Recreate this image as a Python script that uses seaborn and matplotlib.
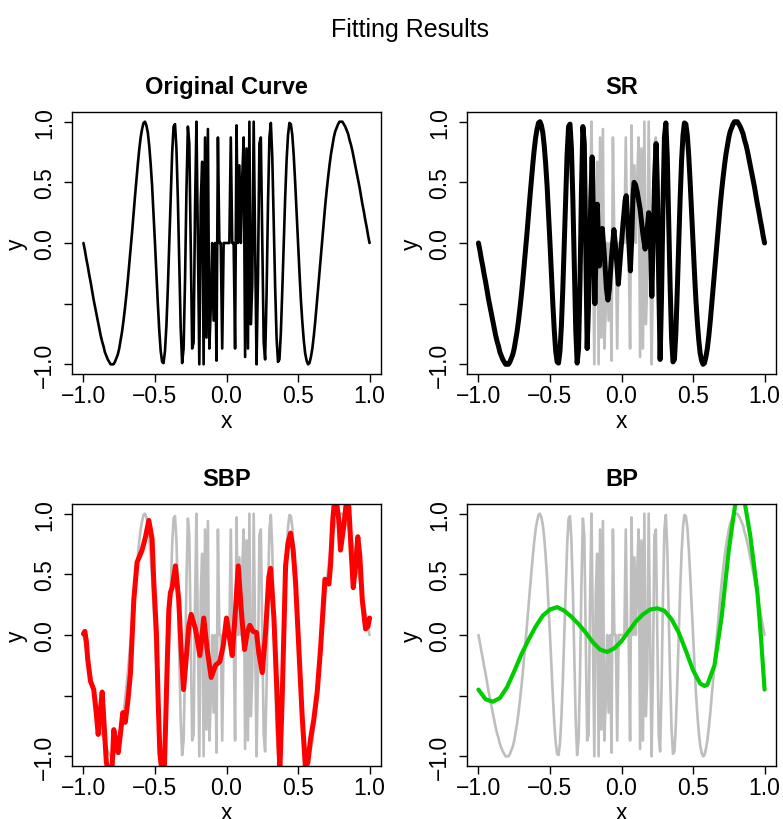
import numpy as np
import pandas as pd
import matplotlib
matplotlib.use("Agg")
import matplotlib.pyplot as plt
import seaborn as sns

# ---------------- data ----------------
# sampling grid of the original curve: -1.00 .. 1.00 by 0.01
x_grid = np.round(np.linspace(-1.0, 1.0, 201), 2)

# original curve values at x = -1.00 ... -0.01
orig_neg = [0.00, -0.06, -0.13, -0.19, -0.26, -0.32, -0.39, -0.46, -0.52, -0.58,
            -0.64, -0.70, -0.76, -0.81, -0.85, -0.90, -0.93, -0.96, -0.98, -1.00,
            -1.00, -1.00, -0.98, -0.95, -0.92, -0.87, -0.80, -0.73, -0.64, -0.54,
            -0.43, -0.31, -0.18, -0.05, 0.09, 0.24, 0.38, 0.52, 0.65, 0.77,
            0.87, 0.94, 0.99, 1.00, 0.97, 0.91, 0.80, 0.65, 0.47, 0.24,
            0.00, -0.25, -0.50, -0.72, -0.89, -0.98, -0.99, -0.89, -0.68, -0.37,
            0.00, 0.39, 0.74, 0.96, 0.98, 0.78, 0.36, -0.19, -0.71, -0.99,
            -0.87, -0.32, 0.43, 0.96, 0.82, 0.00, -0.87, -0.82, 0.28, 1.00,
            0.00, -1.00, 0.34, 0.67, -1.00, 0.87, -0.78, 0.94, -0.87, -0.54,
            0.00, -0.64, 0.00, -0.97, 0.87, 0.00, 0.00, -0.87, 0.00, 0.00]
orig_zero = [0.00]
# original curve values at x = 0.01 ... 1.00
orig_pos = [0.00, 0.00, 0.87, 0.00, 0.00, -0.87, 0.97, 0.00, 0.64, 0.00,
            0.54, 0.87, -0.94, 0.78, -0.87, 1.00, -0.67, -0.34, 1.00, 0.00,
            -1.00, -0.28, 0.82, 0.87, 0.00, -0.82, -0.96, -0.43, 0.32, 0.87,
            0.99, 0.71, 0.19, -0.36, -0.78, -0.98, -0.96, -0.74, -0.39, 0.00,
            0.37, 0.68, 0.89, 0.99, 0.98, 0.89, 0.72, 0.50, 0.25, 0.00,
            -0.24, -0.47, -0.65, -0.80, -0.91, -0.97, -1.00, -0.99, -0.94, -0.87,
            -0.77, -0.65, -0.52, -0.38, -0.24, -0.09, 0.05, 0.18, 0.31, 0.43,
            0.54, 0.64, 0.73, 0.80, 0.87, 0.92, 0.95, 0.98, 1.00, 1.00,
            1.00, 0.98, 0.96, 0.93, 0.90, 0.85, 0.81, 0.76, 0.70, 0.64,
            0.58, 0.52, 0.46, 0.39, 0.32, 0.26, 0.19, 0.13, 0.06, 0.00]

# SR fit: identical to the original for |x| large, its own values in the middle
sr_mid_x = [-0.225, -0.215, -0.205, -0.195, -0.186, -0.178, -0.169, -0.162, -0.155,
            -0.145, -0.134, -0.12, -0.105, -0.095, -0.085, -0.07, -0.053, -0.04,
            -0.022, -0.01, 0.01, 0.025, 0.033, 0.045, 0.062, 0.072, 0.08, 0.088,
            0.098, 0.11, 0.13, 0.15, 0.165, 0.175, 0.19, 0.197, 0.205, 0.212,
            0.222, 0.232, 0.242, 0.25, 0.26]
sr_mid_y = [-0.30, 0.35, 0.71, 0.10, -0.50, -0.05, 0.32, 0.05, -0.19,
            0.00, 0.12, -0.10, -0.38, -0.47, -0.38, -0.12, 0.11, -0.05,
            -0.34, -0.15, 0.15, 0.35, 0.39, 0.15, -0.23, 0.05, 0.38, 0.50,
            0.48, 0.42, 0.28, 0.07, -0.05, 0.05, 0.25, 0.15, -0.10, -0.44,
            0.05, 0.55, 0.82, 0.50, -0.30]

# SBP fit
sbp_x = [-1.00, -0.99, -0.98, -0.97, -0.951, -0.928, -0.91, -0.897, -0.88, -0.869,
         -0.855, -0.84, -0.82, -0.80, -0.788, -0.77, -0.757, -0.74, -0.725, -0.708,
         -0.69, -0.671, -0.648, -0.625, -0.59, -0.566, -0.543, -0.52, -0.508, -0.49,
         -0.478, -0.466, -0.45, -0.434, -0.427, -0.415, -0.403, -0.392, -0.38, -0.357,
         -0.334, -0.317, -0.30, -0.282, -0.264, -0.247, -0.217, -0.186, -0.159, -0.135,
         -0.107, -0.077, -0.047, -0.023, 0.00, 0.023, 0.04, 0.063, 0.082, 0.103,
         0.126, 0.145, 0.163, 0.186, 0.21, 0.226, 0.25, 0.273, 0.296, 0.308,
         0.331, 0.355, 0.373, 0.389, 0.401, 0.413, 0.43, 0.448, 0.466, 0.483,
         0.506, 0.529, 0.552, 0.569, 0.587, 0.61, 0.634, 0.657, 0.688, 0.716,
         0.727, 0.743, 0.76, 0.785, 0.797, 0.82, 0.84, 0.855, 0.871, 0.886,
         0.902, 0.918, 0.932, 0.949, 0.972, 0.989, 1.00]
sbp_y = [0.01, 0.03, -0.05, -0.20, -0.38, -0.45, -0.65, -0.82, -0.60, -0.47,
         -0.75, -1.05, -1.15, -1.10, -0.78, -0.90, -0.97, -0.80, -0.64, -0.72,
         -0.55, -0.31, 0.29, 0.60, 0.70, 0.81, 0.945, 0.79, 0.43, 0.02,
         -0.53, -0.97, -1.15, -1.08, -0.80, -0.26, 0.21, 0.35, 0.39, 0.57,
         0.29, -0.12, -0.45, -0.20, 0.07, 0.17, 0.05, -0.17, 0.14, -0.12,
         -0.35, -0.25, -0.22, -0.09, 0.14, -0.04, -0.17, 0.21, 0.57, 0.21,
         -0.12, 0.02, 0.08, 0.03, 0.02, -0.15, -0.31, 0.02, 0.48, 0.55,
         0.15, -0.53, -1.12, -0.53, 0.02, 0.57, 0.76, 0.84, 0.70, 0.43,
         -0.12, -0.67, -1.10, -1.05, -0.86, -0.70, -0.47, -0.12, 0.46, 0.42,
         0.57, 0.95, 1.18, 0.95, 0.70, 0.90, 1.12, 1.06, 0.70, 0.39,
         0.57, 0.81, 0.65, 0.29, 0.05, 0.07, 0.14]

# BP fit
bp_x = [-1.00, -0.95, -0.90, -0.85, -0.80, -0.75, -0.70, -0.65, -0.60, -0.55,
        -0.50, -0.45, -0.40, -0.35, -0.30, -0.25, -0.20, -0.15, -0.10, -0.05,
        0.00, 0.05, 0.10, 0.15, 0.20, 0.25, 0.30, 0.35, 0.40, 0.45,
        0.50, 0.55, 0.58, 0.60, 0.65, 0.70, 0.75, 0.80, 0.83, 0.86,
        0.90, 0.95, 0.975, 1.00]
bp_y = [-0.45, -0.53, -0.55, -0.52, -0.43, -0.30, -0.16, -0.04, 0.07, 0.16,
        0.21, 0.23, 0.20, 0.15, 0.09, 0.02, -0.06, -0.12, -0.14, -0.11,
        -0.05, 0.03, 0.11, 0.17, 0.21, 0.22, 0.20, 0.13, 0.02, -0.13,
        -0.29, -0.40, -0.42, -0.41, -0.25, 0.15, 0.70, 1.12, 1.22, 1.10,
        0.82, 0.35, -0.02, -0.45]

panel_titles = ["Original Curve", "SR", "SBP", "BP"]
tick_vals = [-1.0, -0.5, 0.0, 0.5, 1.0]
x_tick_labels = ["\u22121.0", "\u22120.5", "0.0", "0.5", "1.0"]
y_tick_labels = ["\u22121.0", "", "0.0", "0.5", "1.0"]

# ---------------- assemble ----------------
orig_y = np.array(orig_neg + orig_zero + orig_pos)
orig_df = pd.DataFrame({"x": x_grid, "y": orig_y})

left = x_grid < -0.235
right = x_grid > 0.265
sr_df = pd.DataFrame({
    "x": np.concatenate([x_grid[left], sr_mid_x, x_grid[right]]),
    "y": np.concatenate([orig_y[left], sr_mid_y, orig_y[right]]),
})
sbp_df = pd.DataFrame({"x": sbp_x, "y": sbp_y})
bp_df = pd.DataFrame({"x": bp_x, "y": bp_y})

# ---------------- figure ----------------
sns.set_style("ticks")
plt.rcParams["font.family"] = ["Liberation Sans", "DejaVu Sans"]
plt.rcParams["text.color"] = "black"
plt.rcParams["axes.labelcolor"] = "black"
plt.rcParams["xtick.color"] = "black"
plt.rcParams["ytick.color"] = "black"

W, H = 783, 820
fig = plt.figure(figsize=(W / 100, H / 100), dpi=100)

boxes = [(72, 113), (467, 113), (72, 505), (467, 505)]
bw, bh = 309, 262
axes = [fig.add_axes([l / W, 1 - (t + bh) / H, bw / W, bh / H]) for l, t in boxes]

GRAY = "#BEBEBE"

def draw(ax, df, color, lw):
    sns.lineplot(data=df, x="x", y="y", ax=ax, color=color, linewidth=lw,
                 sort=False, estimator=None,
                 solid_joinstyle="round", solid_capstyle="round")

draw(axes[0], orig_df, "black", 1.9)

draw(axes[1], orig_df, GRAY, 1.9)
draw(axes[1], sr_df, "black", 3.6)

draw(axes[2], orig_df, GRAY, 1.9)
draw(axes[2], sbp_df, "#FF0000", 3.6)

draw(axes[3], orig_df, GRAY, 1.9)
draw(axes[3], bp_df, "#00CD00", 3.0)

for ax, title in zip(axes, panel_titles):
    ax.set_xlim(-1.08, 1.08)
    ax.set_ylim(-1.08, 1.08)
    ax.set_xticks(tick_vals)
    ax.set_xticklabels(x_tick_labels, fontsize=16.5)
    ax.set_yticks(tick_vals)
    ax.set_yticklabels(y_tick_labels, fontsize=16.5, rotation=90, va="center")
    for s in ax.spines.values():
        s.set_visible(True)
        s.set_color("black")
        s.set_linewidth(1.0)
    ax.tick_params(direction="out", length=5.5, width=1.0, color="black",
                   labelcolor="black")
    ax.tick_params(axis="x", pad=2)
    ax.tick_params(axis="y", pad=6)
    ax.set_xlabel("x", fontsize=16.5, labelpad=1, color="black")
    ax.set_ylabel("y", fontsize=16.5, labelpad=4, color="black")
    ax.set_title(title, fontsize=17, fontweight="bold", pad=14, color="black")
    ax.set_facecolor("white")

fig.text(410 / W, 1 - 30 / H, "Fitting Results", ha="center", va="center",
         fontsize=18, color="black")

fig.savefig("out.png", dpi=100, facecolor="white")
